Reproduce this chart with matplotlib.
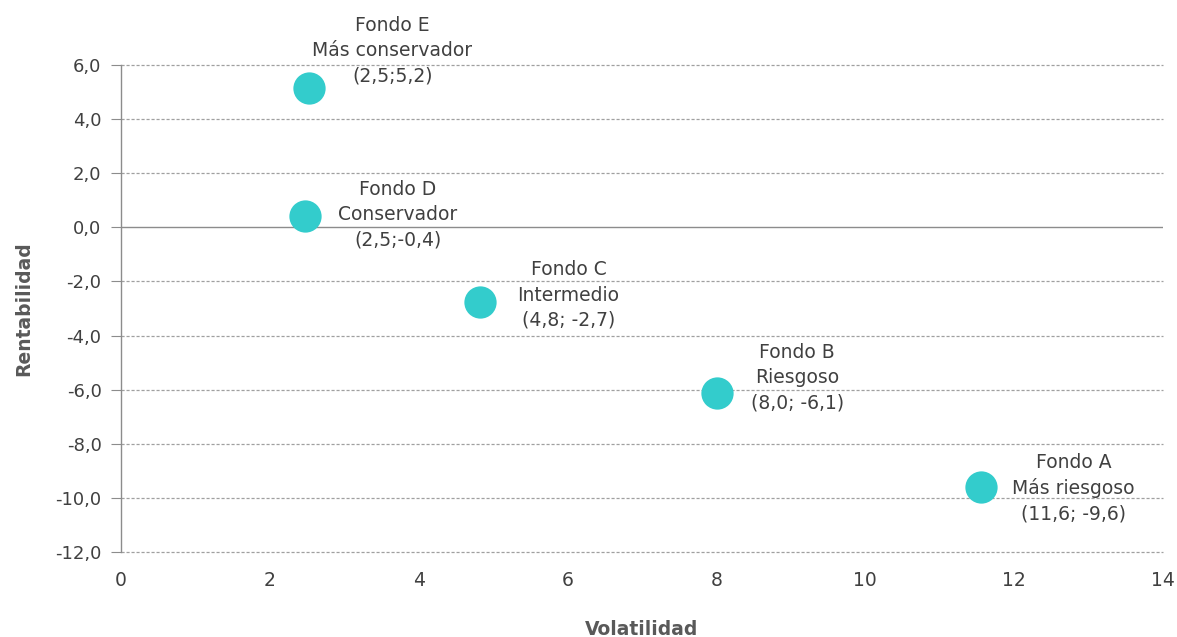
import numpy as np
import matplotlib.pyplot as plt
from matplotlib.ticker import FuncFormatter

# datos
fondos = ['Fondo E', 'Fondo D', 'Fondo C', 'Fondo B', 'Fondo A']
perfiles = ['Más conservador', 'Conservador', 'Intermedio', 'Riesgoso', 'Más riesgoso']
etiquetas_xy = ['(2,5;5,2)', '(2,5;-0,4)', '(4,8; -2,7)', '(8,0; -6,1)', '(11,6; -9,6)']
volatilidad = [2.53, 2.47, 4.83, 8.01, 11.56]
rentabilidad = [5.15, 0.42, -2.76, -6.12, -9.6]

# desplazamiento de cada etiqueta (pixeles) respecto al punto
desplazamientos = [(83, 37), (93, 1), (88, 7), (80, 15), (92, -1)]

color_punto = '#33CCCC'
color_texto = '#404040'

fig = plt.figure(figsize=(11.77, 6.37), dpi=100)
ax = fig.add_axes([121/1177, 1-552/637, (1163-121)/1177, (552-65)/637])

ax.scatter(volatilidad, rentabilidad, s=540, color=color_punto, zorder=3, linewidths=0)

for i in range(len(fondos)):
    texto = fondos[i] + '\n' + perfiles[i] + '\n' + etiquetas_xy[i]
    ax.annotate(texto, (volatilidad[i], rentabilidad[i]),
                xytext=desplazamientos[i], textcoords='offset pixels',
                ha='center', va='center', fontsize=13.5, color=color_texto,
                linespacing=1.42, zorder=4)

ax.set_xlim(0, 14)
ax.set_ylim(-12, 6)
ax.set_xticks(np.arange(0, 15, 2))
ax.set_yticks(np.arange(-12, 7, 2))
ax.yaxis.set_major_formatter(FuncFormatter(lambda v, p: f'{v:.1f}'.replace('.', ',')))

# rejilla punteada
for y in np.arange(-12, 7, 2):
    if y != 0:
        ax.axhline(y, color='#A0A0A0', lw=0.9, ls=(0, (2.5, 1.5)), zorder=1, clip_on=False)
ax.axhline(0, color='#8C8C8C', lw=1.0, zorder=2)

for lado in ['top', 'right', 'bottom']:
    ax.spines[lado].set_visible(False)
ax.spines['left'].set_color('#8C8C8C')
ax.spines['left'].set_linewidth(1.0)

ax.tick_params(axis='y', direction='out', length=7, color='#8C8C8C',
               labelsize=13, labelcolor=color_texto, pad=7)
ax.tick_params(axis='x', length=0, labelsize=13.5, labelcolor=color_texto, pad=14)

ax.set_xlabel('Volatilidad', fontsize=13.5, fontweight='bold', color='#595959', labelpad=21)
ax.set_ylabel('Rentabilidad', fontsize=13.5, fontweight='bold', color='#595959', labelpad=16)

fig.savefig('out.png', dpi=100)
